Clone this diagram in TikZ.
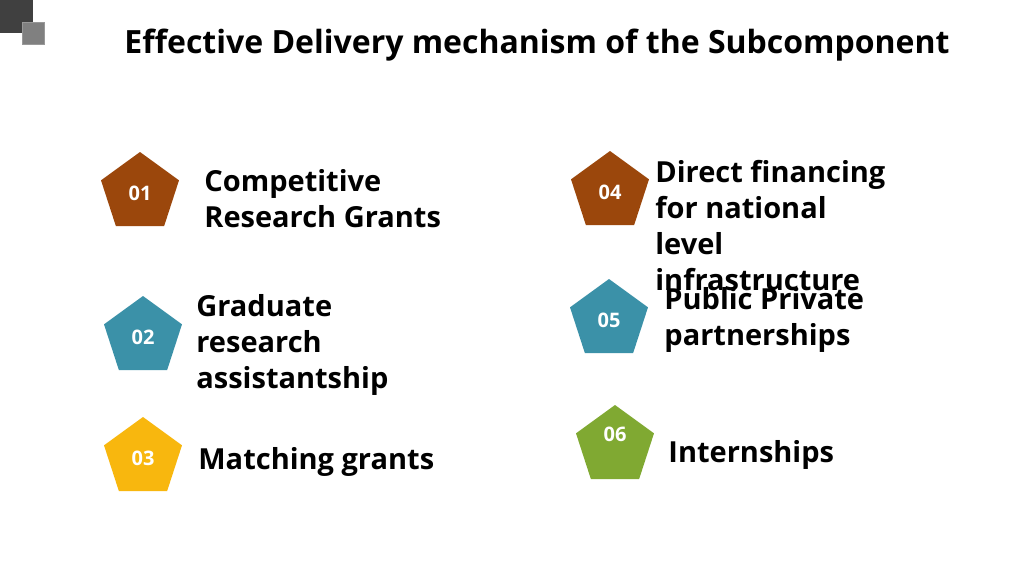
\documentclass[tikz,border=0pt]{standalone}
\usepackage{fontspec}
\setmainfont{Open Sans}
\usepackage{tikz}
\usetikzlibrary{shapes,positioning}

\definecolor{penbrown}{HTML}{9B470C}
\definecolor{penteal}{HTML}{3B91A8}
\definecolor{penyellow}{HTML}{F8B70E}
\definecolor{pengreen}{HTML}{80A932}

\begin{document}
\begin{tikzpicture}[x=0.5pt,y=-0.5pt,
			pent/.style={regular polygon, regular polygon sides=5, minimum size=41pt,
					inner sep=0pt, text=white, font=\bfseries\fontsize{10}{12}\selectfont},
			item/.style={anchor=north west, align=left, inner sep=0pt,
					font=\bfseries\fontsize{14.5}{18}\selectfont}
		]
		\useasboundingbox[fill=white] (0,0) rectangle (1024,575);
		% corner squares
		\fill[black!75] (0,0) rectangle (33,33);
		\fill[black!50, draw=black!40] (22,22) rectangle (44,44);

		\node[font=\bfseries\fontsize{16}{18}\selectfont] (title) at (537,45) {Effective Delivery mechanism of the Subcomponent};

		% left column
		\node[pent, fill=penbrown] (p1) at (140,193) {01};
		\node[pent, fill=penteal] (p2) at (143,337) {02};
		\node[pent, fill=penyellow] (p3) at (143,458) {03};
		\node[item] (t1) at (204,169) {Competitive\\Research Grants};
		\node[item] (t2) at (196,294) {Graduate\\research\\assistantship};
		\node[item] (t3) at (198,447) {Matching grants};

		% right column
		\node[pent, fill=penbrown] (p4) at (610,192) {04};
		\node[pent, fill=penteal] (p5) at (609,320) {05};
		\node[pent, fill=pengreen] (p6) at (615,446) {\raisebox{12pt}{06}};
		\node[item] (t4) at (655,160) {Direct financing\\for national\\level\\infrastructure};
		\node[item] (t5) at (664,287) {Public Private\\partnerships};
		\node[item] (t6) at (668,440) {Internships};
	\end{tikzpicture}
\end{document}
